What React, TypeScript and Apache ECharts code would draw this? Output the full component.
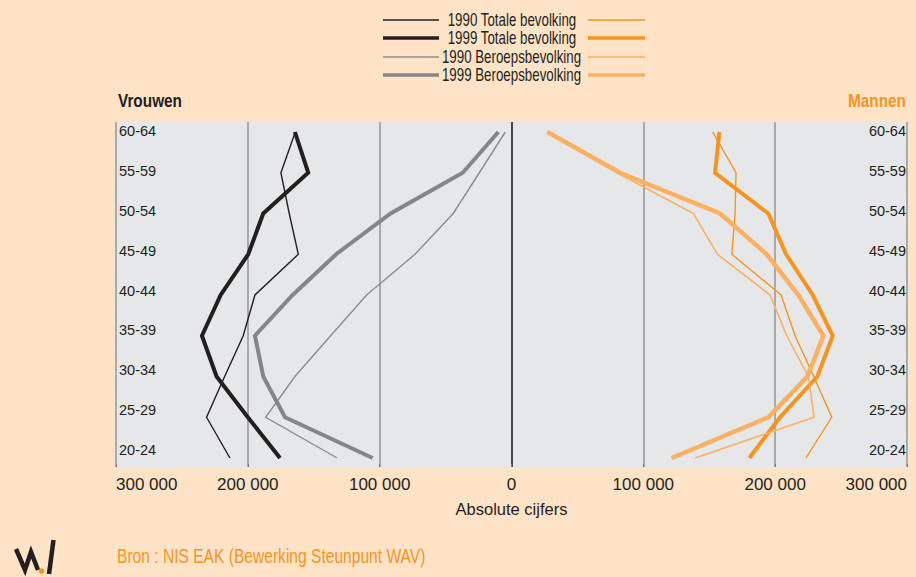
import React, { useEffect, useRef } from 'react';
import * as echarts from 'echarts';

// Age groups, bottom to top
const categories = ['20-24', '25-29', '30-34', '35-39', '40-44', '45-49', '50-54', '55-59', '60-64'];

// Vrouwen (drawn to the left)
const vrouwen1990Totaal = [213600, 231300, 217600, 203500, 194600, 161700, 168600, 174900, 164000];
const vrouwen1999Totaal = [175600, 200000, 223700, 234800, 220600, 199700, 188300, 154200, 164300];
const vrouwen1990Beroeps = [132200, 186500, 164300, 137200, 109900, 73200, 44200, 24400, 4700];
const vrouwen1999Beroeps = [105300, 171800, 188300, 194600, 166000, 133000, 91700, 37000, 10000];

// Mannen (drawn to the right)
const mannen1990Totaal = [223400, 242900, 229300, 215100, 204500, 167100, 169600, 170300, 152600];
const mannen1999Totaal = [180400, 203700, 232000, 243700, 228500, 208300, 194800, 154400, 157700];
const mannen1990Beroeps = [139200, 229500, 225200, 208800, 196100, 156200, 138000, 80000, 27000];
const mannen1999Beroeps = [121500, 194800, 224400, 236600, 217600, 193600, 158200, 82300, 27200];

const legendLabels = ['1990 Totale bevolking', '1999 Totale bevolking', '1990 Beroepsbevolking', '1999 Beroepsbevolking'];

const FONT = '"Liberation Sans", Arial, Helvetica, sans-serif';
const DARK = '#231f20';
const ORANGE = '#f7941d';
const LIGHT_ORANGE = '#fbb062';
const BG = '#fee3c7';

const leftStyles = [
  { color: DARK, width: 1.4 },
  { color: DARK, width: 4 },
  { color: '#8a8c8e', width: 1.4 },
  { color: '#848688', width: 4 },
];
const rightStyles = [
  { color: ORANGE, width: 1.4 },
  { color: ORANGE, width: 4 },
  { color: LIGHT_ORANGE, width: 1.6 },
  { color: LIGHT_ORANGE, width: 4.5 },
];

const fmt = (v: number) => {
  const a = Math.abs(v);
  if (a === 0) return '0';
  const s = String(a);
  return s.replace(/\B(?=(\d{3})+(?!\d))/g, ' ');
};

export default function App() {
  const ref = useRef<HTMLDivElement>(null);
  useEffect(() => {
    if (!ref.current) return;
    const chart = echarts.init(ref.current, null, { renderer: 'svg' });

    const leftData = [vrouwen1990Totaal, vrouwen1999Totaal, vrouwen1990Beroeps, vrouwen1999Beroeps];
    const rightData = [mannen1990Totaal, mannen1999Totaal, mannen1990Beroeps, mannen1999Beroeps];

    const series: any[] = [];
    leftData.forEach((arr, k) => {
      series.push({
        name: 'Vrouwen ' + legendLabels[k],
        type: 'line',
        xAxisIndex: 0,
        yAxisIndex: 0,
        showSymbol: false,
        symbol: 'none',
        lineStyle: { color: leftStyles[k].color, width: leftStyles[k].width, cap: 'butt', join: 'miter' },
        data: arr.map((v, i) => [-v, i]),
        z: 3 + k,
      });
    });
    rightData.forEach((arr, k) => {
      series.push({
        name: 'Mannen ' + legendLabels[k],
        type: 'line',
        xAxisIndex: 0,
        yAxisIndex: 0,
        showSymbol: false,
        symbol: 'none',
        lineStyle: { color: rightStyles[k].color, width: rightStyles[k].width, cap: 'butt', join: 'miter' },
        data: arr.map((v, i) => [v, i]),
        z: 3 + k,
      });
    });

    const legendRowsY = [20, 38, 57, 75];
    const graphic: any[] = [];
    legendRowsY.forEach((y, k) => {
      graphic.push({
        type: 'line',
        shape: { x1: 383, y1: y, x2: 439, y2: y },
        style: { stroke: leftStyles[k].color, lineWidth: k % 2 === 0 ? 1.4 : 3.5 },
      });
      graphic.push({
        type: 'line',
        shape: { x1: 588, y1: y, x2: 645, y2: y },
        style: { stroke: rightStyles[k].color, lineWidth: k % 2 === 0 ? 1.4 : 3.5 },
      });
      graphic.push({
        type: 'text',
        x: k < 2 ? 512 : 511.5,
        y: y,
        scaleX: 0.74,
        style: {
          text: legendLabels[k],
          font: '18px ' + FONT,
          fill: DARK,
          textAlign: 'center',
          textVerticalAlign: 'middle',
        },
      });
    });
    graphic.push({
      type: 'text', x: 118, y: 101, scaleX: 0.83,
      style: { text: 'Vrouwen', font: 'bold 18.5px ' + FONT, fill: DARK, textAlign: 'left', textVerticalAlign: 'middle' },
    });
    graphic.push({
      type: 'text', x: 906, y: 101, scaleX: 0.83,
      style: { text: 'Mannen', font: 'bold 18.5px ' + FONT, fill: ORANGE, textAlign: 'right', textVerticalAlign: 'middle' },
    });
    graphic.push({
      type: 'text', x: 117, y: 556, scaleX: 0.8,
      style: { text: 'Bron : NIS EAK (Bewerking Steunpunt WAV)', font: '19.5px ' + FONT, fill: ORANGE, textAlign: 'left', textVerticalAlign: 'middle' },
    });
    // logo
    graphic.push({
      type: 'polyline',
      shape: { points: [[16, 549], [25, 570], [31, 552], [38, 570]] },
      style: { stroke: DARK, lineWidth: 4.5, fill: 'none', lineJoin: 'miter' },
    });
    graphic.push({
      type: 'line',
      shape: { x1: 49, y1: 574, x2: 53.5, y2: 540 },
      style: { stroke: DARK, lineWidth: 4.5 },
    });
    graphic.push({
      type: 'circle',
      shape: { cx: 41.5, cy: 571, r: 2.8 },
      style: { fill: ORANGE },
    });

    chart.setOption({
      animation: false,
      backgroundColor: BG,
      textStyle: { fontFamily: FONT },
      grid: [
        { left: 116, right: 9, top: 132, bottom: 119 },
        { left: 116, right: 9, top: 122, bottom: 110, show: true, backgroundColor: '#e6e7e8', borderWidth: 0 },
        { left: 116, right: 9, top: 131, bottom: 127 },
      ],
      xAxis: [
        { gridIndex: 0, type: 'value', min: -300000, max: 300000, show: false },
        {
          gridIndex: 1,
          type: 'value',
          min: -300000,
          max: 300000,
          interval: 100000,
          axisLine: { show: false },
          axisTick: { show: true, inside: true, length: 3, lineStyle: { color: '#777' } },
          axisLabel: {
            formatter: fmt,
            fontSize: 17,
            color: DARK,
            margin: 9,
            fontFamily: FONT,
            alignMinLabel: 'left',
            alignMaxLabel: 'right',
          },
          splitLine: {
            show: true,
            lineStyle: {
              color: ['#9a9b9d', '#9a9b9d', '#9a9b9d', DARK, '#9a9b9d', '#9a9b9d', '#9a9b9d'],
              width: 1.6,
            },
          },
          name: 'Absolute cijfers',
          nameLocation: 'middle',
          nameGap: 33,
          nameTextStyle: { fontSize: 16.5, color: DARK, fontFamily: FONT },
        },
        { gridIndex: 2, type: 'value', min: -300000, max: 300000, show: false },
      ],
      yAxis: [
        { gridIndex: 0, type: 'category', data: categories, boundaryGap: false, show: false },
        { gridIndex: 1, type: 'value', show: false },
        {
          gridIndex: 2,
          type: 'category',
          data: categories,
          boundaryGap: false,
          position: 'left',
          axisLine: { show: false },
          axisTick: { show: false },
          splitLine: { show: false },
          axisLabel: { inside: true, fontSize: 14.5, color: DARK, margin: 3, fontFamily: FONT },
        },
        {
          gridIndex: 2,
          type: 'category',
          data: categories,
          boundaryGap: false,
          position: 'right',
          axisLine: { show: false },
          axisTick: { show: false },
          splitLine: { show: false },
          axisLabel: { inside: true, fontSize: 14.5, color: DARK, margin: 1, fontFamily: FONT },
        },
      ],
      graphic,
      series,
    });
    return () => chart.dispose();
  }, []);
  return (
    <div
      ref={ref}
      style={{ position: 'fixed', left: 0, top: 0, width: 916, height: 577, background: BG }}
    />
  );
}
